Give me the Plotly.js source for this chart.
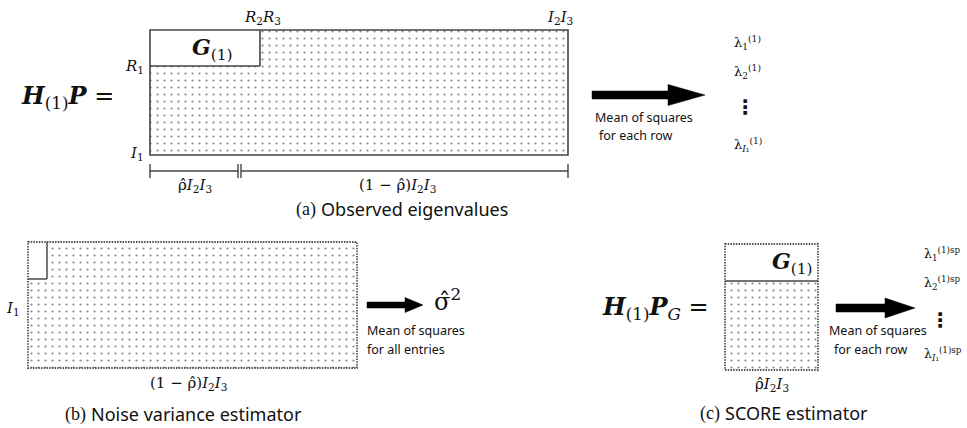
<!DOCTYPE html>
<html>
<head>
<meta charset="utf-8">
<script src="https://cdn.plot.ly/plotly-3.0.1.min.js"></script>
<style>html,body{margin:0;padding:0;background:#fff;}#chart{width:967px;height:428px;}</style>
</head>
<body>
<div id="chart"></div>
<script>
// ---- content (labels) ----
const captionTags = ['(a)', '(b)', '(c)'];
const captionTexts = ['Observed eigenvalues', 'Noise variance estimator', 'SCORE estimator'];
const arrowNotes = ['Mean of squares', 'for each row', 'for all entries'];
const lambdaObs = ['λ<sub>1</sub><sup>(1)</sup>', 'λ<sub>2</sub><sup>(1)</sup>', 'λ<sub><i>I</i>₁</sub><sup>(1)</sup>'];
const lambdaSp = ['λ<sub>1</sub><sup>(1)sp</sup>', 'λ<sub>2</sub><sup>(1)sp</sup>', 'λ<sub><i>I</i>₁</sub><sup>(1)sp</sup>'];
const matrixNames = ['<b><i>H</i></b><sub>(1)</sub><b><i>P</i></b> =', '<b><i>H</i></b><sub>(1)</sub><b><i>P</i></b><sub><i>G</i></sub> =', '<b><i>G</i></b><sub>(1)</sub>'];
const dimLabels = ['<i>R</i><sub>2</sub><i>R</i><sub>3</sub>', '<i>I</i><sub>2</sub><i>I</i><sub>3</sub>', '<i>R</i><sub>1</sub>', '<i>I</i><sub>1</sub>', 'ρ̂<i>I</i><sub>2</sub><i>I</i><sub>3</sub>', '(1 − ρ̂)<i>I</i><sub>2</sub><i>I</i><sub>3</sub>', 'σ̂<sup>2</sup>'];

// ---- drawing helpers ----
const MATH = 'DejaVu Serif, Liberation Serif, serif';
const SERIF = 'Liberation Serif, DejaVu Serif, serif';
const SANS = 'Noto Sans, Open Sans, sans-serif';
function poly(pts) { return { x: pts.map(p => p[0]).concat([pts[0][0]]), y: pts.map(p => p[1]).concat([pts[0][1]]) }; }
function stipple(pts) {
  const p = poly(pts);
  return { type: 'scatter', x: p.x, y: p.y, mode: 'none', fill: 'toself', fillcolor: '#fff', hoverinfo: 'skip',
    fillpattern: { shape: '.', size: 7, solidity: 0.08, fgcolor: '#111', bgcolor: '#fff', fillmode: 'overlay' } };
}
function rect(x0, y0, x1, y1, color, width, dash) {
  return { type: 'rect', xref: 'x', yref: 'y', x0, y0, x1, y1, line: { color, width, dash: dash || 'solid' }, fillcolor: 'rgba(0,0,0,0)' };
}
function line(x0, y0, x1, y1, color, width, dash) {
  return { type: 'line', xref: 'x', yref: 'y', x0, y0, x1, y1, line: { color, width, dash: dash || 'solid' } };
}
function arrow(x0, x1, y, shaftH, headL, headH) {
  const xh = x1 - headL;
  const path = `M${x0},${y - shaftH / 2} L${xh},${y - shaftH / 2} L${xh},${y - headH / 2} L${x1},${y} L${xh},${y + headH / 2} L${xh},${y + shaftH / 2} L${x0},${y + shaftH / 2} Z`;
  return { type: 'path', xref: 'x', yref: 'y', path, fillcolor: '#000', line: { color: '#000', width: 0.5 } };
}
function txt(x, y, text, size, family, xanchor, color) {
  return { x, y, xref: 'x', yref: 'y', text, showarrow: false, xanchor: xanchor || 'center', yanchor: 'middle',
    font: { size, family, color: color || '#111' } };
}
function caption(x, y, i) {
  return [txt(x, y, captionTags[i], 18, SERIF, 'right'), txt(x + 1, y, captionTexts[i], 18, SANS, 'left')];
}

// ---- stippled regions ----
const traces = [
  stipple([[150, 66], [260, 66], [260, 30], [568, 30], [568, 155], [150, 155]]),
  stipple([[47, 242], [357, 242], [357, 368], [28, 368], [28, 279], [47, 279]]),
  stipple([[725, 281], [818, 281], [818, 370], [725, 370]])
];

const DOTB = '1.5px,1.2px';
const shapes = [
  // (a)
  rect(150, 30, 568, 155, '#444', 1.6),
  line(150, 66, 260, 66, '#444', 1.6),
  line(260, 30, 260, 66, '#444', 1.6),
  line(150, 171, 238, 171, '#444', 1.4),
  line(241, 171, 568, 171, '#444', 1.4),
  line(150, 164, 150, 178, '#444', 1.4),
  line(238, 164, 238, 178, '#444', 1.4),
  line(241, 164, 241, 178, '#444', 1.4),
  line(568, 164, 568, 178, '#444', 1.4),
  arrow(592, 705, 95, 8, 37, 21),
  // (b)
  rect(28, 242, 357, 368, '#555', 1.8, DOTB),
  line(47, 242, 47, 279, '#555', 1.6),
  line(28, 279, 47, 279, '#555', 1.6),
  arrow(367, 423, 305, 6, 18, 15),
  // (c)
  rect(725, 244, 818, 370, '#555', 1.8, DOTB),
  line(725, 281, 818, 281, '#444', 1.6),
  arrow(836, 915, 308, 8, 30, 20)
];

const annotations = [
  // (a)
  txt(67, 97, matrixNames[0], 24, MATH),
  txt(212, 49, matrixNames[2], 22, MATH),
  txt(262, 17, dimLabels[0], 15, MATH),
  txt(560, 17, dimLabels[1], 15, MATH),
  txt(146, 66, dimLabels[2], 15, MATH, 'right'),
  txt(146, 153, dimLabels[3], 15, MATH, 'right'),
  txt(195, 185, dimLabels[4], 15, MATH),
  txt(397, 185, dimLabels[5], 15, MATH),
  ...caption(318, 209, 0),
  txt(593, 117, arrowNotes[0], 12.5, SANS, 'left'),
  txt(597, 135, arrowNotes[1], 12.5, SANS, 'left'),
  txt(732, 43, lambdaObs[0], 13, MATH, 'left'),
  txt(732, 72, lambdaObs[1], 13, MATH, 'left'),
  txt(745, 107, '<b>⋮</b>', 20, 'DejaVu Sans'),
  txt(732, 145, lambdaObs[2], 13, MATH, 'left'),
  // (b)
  txt(13, 308, dimLabels[3], 15, MATH),
  txt(188, 383, dimLabels[5], 15, MATH),
  ...caption(88, 414, 1),
  txt(447, 300, dimLabels[6], 24, MATH),
  txt(365, 330, arrowNotes[0], 12.5, SANS, 'left'),
  txt(365, 349, arrowNotes[2], 12.5, SANS, 'left'),
  // (c)
  txt(655, 308, matrixNames[1], 24, MATH),
  txt(815, 263, matrixNames[2], 22, MATH, 'right'),
  txt(772, 384, dimLabels[4], 15, MATH),
  ...caption(722, 413, 2),
  txt(827, 330, arrowNotes[0], 12.5, SANS, 'left'),
  txt(832, 349, arrowNotes[1], 12.5, SANS, 'left'),
  txt(922, 254, lambdaSp[0], 12.5, MATH, 'left'),
  txt(922, 283, lambdaSp[1], 12.5, MATH, 'left'),
  txt(940, 320, '<b>⋮</b>', 20, 'DejaVu Sans'),
  txt(922, 354, lambdaSp[2], 12.5, MATH, 'left')
];

const layout = {
  width: 967, height: 428,
  margin: { l: 0, r: 0, t: 0, b: 0 },
  paper_bgcolor: '#fff', plot_bgcolor: '#fff',
  showlegend: false,
  xaxis: { range: [0, 967], visible: false, fixedrange: true },
  yaxis: { range: [428, 0], visible: false, fixedrange: true },
  shapes, annotations
};
Plotly.newPlot('chart', traces, layout, { displayModeBar: false, staticPlot: true });
</script>
</body>
</html>
